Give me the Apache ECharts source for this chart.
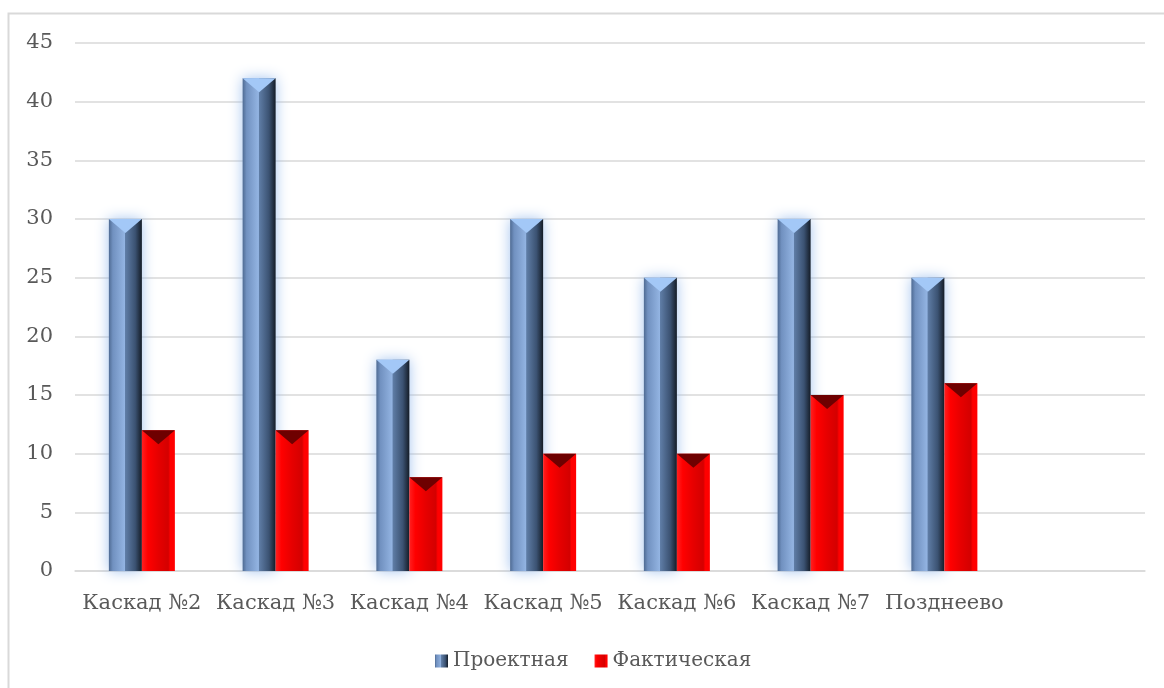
<!DOCTYPE html>
<html>
<head>
<meta charset="utf-8">
<script src="https://cdn.jsdelivr.net/npm/echarts@6/dist/echarts.min.js"></script>
<style>
  html, body { margin: 0; padding: 0; background: #fff; }
</style>
</head>
<body>
	<div id="main" style="width: 1164px; height: 688px;"></div>
	<script type="text/javascript">
		// данные
		var categories = ['Каскад №2', 'Каскад №3', 'Каскад №4', 'Каскад №5', 'Каскад №6', 'Каскад №7', 'Позднеево', ''];
		var seriesNames = ['Проектная', 'Фактическая'];
		var projectValues = [30, 42, 18, 30, 25, 30, 25, null];
		var actualValues = [12, 12, 8, 10, 10, 15, 16, null];
		var yTicks = { min: 0, max: 45, interval: 5 };

		var myChart = echarts.init(document.getElementById('main'));

		var font = '"DejaVu Serif", "Liberation Serif", serif';
		var textColor = '#595959';
		var barW = 33;

		var blueFill = new echarts.graphic.LinearGradient(0, 0, 1, 0, [
			{ offset: 0, color: '#4f6b93' },
			{ offset: 0.12, color: '#7191c0' },
			{ offset: 0.48, color: '#93b4e2' },
			{ offset: 0.5, color: '#5f7da6' },
			{ offset: 0.8, color: '#3b5272' },
			{ offset: 1, color: '#141c27' }
		]);
		var redFill = new echarts.graphic.LinearGradient(0, 0, 1, 0, [
			{ offset: 0, color: '#ff2020' },
			{ offset: 0.18, color: '#ff0000' },
			{ offset: 0.5, color: '#e60000' },
			{ offset: 0.8, color: '#d40000' },
			{ offset: 0.86, color: '#ff0000' },
			{ offset: 1, color: '#ff0000' }
		]);

		var option = {
			animation: false,
			backgroundColor: '#fff',
			graphic: [{
				type: 'rect',
				shape: { x: 8.5, y: 13.5, width: 1200, height: 700 },
				style: { fill: 'none', stroke: '#d9d9d9', lineWidth: 2 },
				silent: true
			}],
			grid: { left: 75, right: 19, top: 43, bottom: 117, containLabel: false },
			legend: {
				data: seriesNames,
				left: 430,
				top: 646,
				icon: 'rect',
				itemWidth: 13,
				itemHeight: 13,
				itemGap: 26,
				itemTextGap: 7,
				textStyle: { fontFamily: font, fontSize: 20, color: textColor }
			},
			xAxis: {
				type: 'category',
				data: categories,
				axisLine: { lineStyle: { color: '#d9d9d9', width: 1.5 } },
				axisTick: { show: false },
				axisLabel: { interval: 0, margin: 22, fontFamily: font, fontSize: 21, color: textColor }
			},
			yAxis: {
				type: 'value',
				min: yTicks.min,
				max: yTicks.max,
				interval: yTicks.interval,
				axisLine: { show: false },
				axisTick: { show: false },
				axisLabel: { margin: 22, fontFamily: font, fontSize: 21, color: textColor },
				splitLine: { lineStyle: { color: '#d9d9d9', width: 1.5 } }
			},
			series: [{
				name: seriesNames[0],
				type: 'bar',
				data: projectValues,
				barWidth: barW,
				barGap: '0%',
				itemStyle: { color: blueFill, shadowColor: 'rgba(140,180,235,0.8)', shadowBlur: 14 }
			}, {
				name: seriesNames[1],
				type: 'bar',
				data: actualValues,
				barWidth: barW,
				barGap: '0%',
				itemStyle: { color: redFill }
			}, {
				// верхние скосы
				name: 'capBlue',
				type: 'pictorialBar',
				data: projectValues,
				barWidth: barW,
				barGap: '0%',
				symbol: 'path://M0,0 L10,0 L5,6 Z',
				symbolSize: [barW, 14],
				symbolPosition: 'end',
				itemStyle: { color: '#a3c8f7' },
				z: 3
			}, {
				name: 'capRed',
				type: 'pictorialBar',
				data: actualValues,
				barWidth: barW,
				barGap: '0%',
				symbol: 'path://M0,0 L10,0 L5,6 Z',
				symbolSize: [barW, 14],
				symbolPosition: 'end',
				itemStyle: { color: '#6e0000' },
				z: 3
			}]
		};

		myChart.setOption(option);
	</script>
</body>
</html>
